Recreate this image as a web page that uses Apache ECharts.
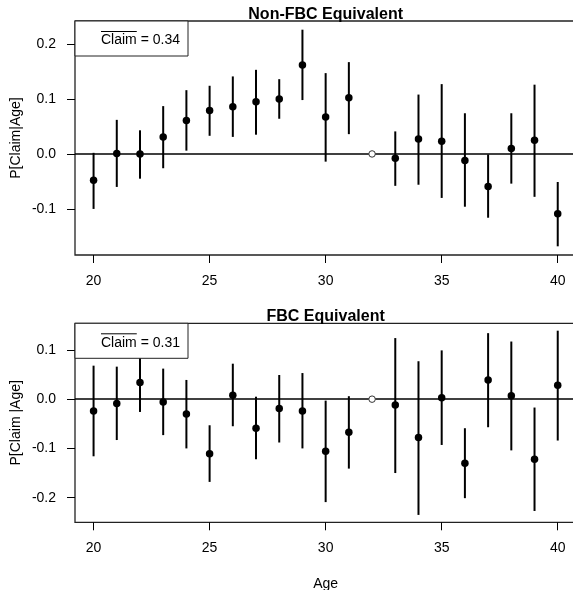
<!DOCTYPE html>
<html>
<head>
<meta charset="utf-8">
<script src="https://cdn.jsdelivr.net/npm/echarts@6/dist/echarts.min.js"></script>
<style>
  html, body { margin: 0; padding: 0; background: #fff; overflow: hidden; }
  #chart { width: 573px; height: 590px; }
</style>
</head>
<body>
<div id="chart"></div>
<script>
// Age groups with an estimate (32 is the reference group, fixed at 0)
const ages = [20, 21, 22, 23, 24, 25, 26, 27, 28, 29, 30, 31, 33, 34, 35, 36, 37, 38, 39, 40];
const refAge = 32;
const refValue = 0;

// Non-FBC equivalent: point estimate and interval bounds
const nonFbcMean = [-0.048, 0.001, 0.000, 0.031, 0.061, 0.079, 0.086, 0.095, 0.100, 0.162, 0.067, 0.102,
                    -0.008, 0.027, 0.023, -0.012, -0.059, 0.010, 0.025, -0.109];
const nonFbcLow  = [-0.100, -0.060, -0.045, -0.026, 0.006, 0.033, 0.031, 0.035, 0.064, 0.098, -0.014, 0.036,
                    -0.058, -0.056, -0.080, -0.096, -0.116, -0.054, -0.078, -0.168];
const nonFbcHigh = [0.002, 0.062, 0.043, 0.087, 0.116, 0.124, 0.141, 0.153, 0.136, 0.226, 0.147, 0.167,
                    0.041, 0.108, 0.127, 0.074, -0.001, 0.074, 0.126, -0.051];

// FBC equivalent: point estimate and interval bounds
const fbcMean = [-0.024, -0.009, 0.034, -0.006, -0.030, -0.111, 0.008, -0.059, -0.019, -0.024, -0.106, -0.067,
                 -0.012, -0.078, 0.003, -0.130, 0.039, 0.007, -0.122, 0.028];
const fbcLow  = [-0.116, -0.083, -0.026, -0.073, -0.100, -0.168, -0.055, -0.122, -0.088, -0.100, -0.209, -0.141,
                 -0.150, -0.235, -0.093, -0.201, -0.057, -0.104, -0.227, -0.084];
const fbcHigh = [0.068, 0.066, 0.095, 0.062, 0.039, -0.053, 0.072, 0.005, 0.049, 0.053, -0.003, 0.006,
                 0.124, 0.077, 0.099, -0.059, 0.134, 0.117, -0.017, 0.139];

// Overall claim rates shown in each panel's box
const claimMeans = [0.34, 0.31];
const panelTitles = ['Non-FBC Equivalent', 'FBC Equivalent'];
const yNames = ['P[Claim|Age]', 'P[Claim |Age]'];

// Axis ranges and tick values
const xRange = [19.2, 40.8];
const xTicks = [20, 25, 30, 35, 40];
const yRanges = [[-0.1838, 0.2418], [-0.2500, 0.1540]];
const yTicks = [[-0.1, 0.0, 0.1, 0.2], [-0.2, -0.1, 0.0, 0.1]];

const FONT = '"Liberation Sans", Arial, Helvetica, sans-serif';
// the plotting region runs slightly past the right edge of the page
const grids = [
  { left: 75, top: 21, right: -3.3, height: 234 },
  { left: 75, top: 323.3, right: -3.3, height: 199 }
];
const plotWidth = 573 + 3.3 - 75;

const chart = echarts.init(document.getElementById('chart'), null, { renderer: 'canvas' });

function errorBarItem(params, api) {
  const x = api.value(0);
  const p1 = api.coord([x, api.value(1)]);
  const p2 = api.coord([x, api.value(2)]);
  return {
    type: 'line',
    shape: { x1: p1[0], y1: p1[1], x2: p2[0], y2: p2[1] },
    style: { stroke: '#000', lineWidth: 2 }
  };
}

const panels = [
  { mean: nonFbcMean, low: nonFbcLow, high: nonFbcHigh },
  { mean: fbcMean, low: fbcLow, high: fbcHigh }
];

const xAxes = [], yAxes = [], series = [], graphics = [];

const measureCtx = document.createElement('canvas').getContext('2d');
measureCtx.font = '14px ' + FONT;
const claimWidth = measureCtx.measureText('Claim').width;

panels.forEach((p, i) => {
  xAxes.push({
    type: 'value', gridIndex: i, min: xRange[0], max: xRange[1],
    axisLine: { show: false, onZero: false },
    splitLine: { show: false },
    axisTick: { show: true, length: 8, customValues: xTicks, lineStyle: { color: '#000', width: 1 } },
    axisLabel: { customValues: xTicks, color: '#000', fontSize: 14, fontFamily: FONT, margin: 19 },
    name: i === 1 ? 'Age' : '',
    nameLocation: 'middle', nameGap: 55,
    nameTextStyle: { color: '#000', fontSize: 14, fontFamily: FONT }
  });
  yAxes.push({
    type: 'value', gridIndex: i, min: yRanges[i][0], max: yRanges[i][1],
    axisLine: { show: false, onZero: false },
    splitLine: { show: false },
    axisTick: { show: true, length: 8, customValues: yTicks[i], lineStyle: { color: '#000', width: 1 } },
    axisLabel: { customValues: yTicks[i], color: '#000', fontSize: 14, fontFamily: FONT, margin: 19,
                 formatter: v => v.toFixed(1) },
    name: yNames[i], nameLocation: 'middle', nameGap: 52, nameMoveOverlap: false,
    nameTextStyle: { color: '#000', fontSize: 14, fontFamily: FONT }
  });

  series.push({
    type: 'custom', xAxisIndex: i, yAxisIndex: i, z: 3,
    renderItem: errorBarItem,
    encode: { x: 0, y: [1, 2] },
    data: ages.map((a, k) => [a, p.low[k], p.high[k]]),
    silent: true
  });
  series.push({
    type: 'scatter', xAxisIndex: i, yAxisIndex: i, z: 4,
    symbol: 'circle', symbolSize: 7.5,
    itemStyle: { color: '#000', opacity: 1 },
    data: ages.map((a, k) => [a, p.mean[k]]),
    silent: true,
    markLine: {
      silent: true, symbol: 'none', animation: false,
      label: { show: false },
      lineStyle: { color: '#000', width: 1.6, type: 'solid' },
      data: [{ yAxis: 0 }]
    }
  });
  series.push({
    type: 'scatter', xAxisIndex: i, yAxisIndex: i, z: 5,
    symbol: 'circle', symbolSize: 6.5,
    itemStyle: { color: '#fff', borderColor: '#333', borderWidth: 1, opacity: 1 },
    data: [[refAge, refValue]],
    silent: true
  });

  const g = grids[i];
  // box in the top-left corner with the overall claim rate
  graphics.push({
    type: 'rect', z: 100,
    shape: { x: g.left, y: g.top, width: 113, height: 35 },
    style: { fill: '#fff', stroke: '#222', lineWidth: 1 }
  });
  graphics.push({
    type: 'text', z: 101,
    x: g.left + 26, y: g.top + 19.5,
    style: { text: 'Claim = ' + claimMeans[i].toFixed(2), font: '14px ' + FONT,
             fill: '#000', align: 'left', verticalAlign: 'middle' }
  });
  graphics.push({
    type: 'line', z: 101,
    shape: { x1: g.left + 26, y1: g.top + 10.5, x2: g.left + 26 + claimWidth, y2: g.top + 10.5 },
    style: { stroke: '#000', lineWidth: 1 }
  });
  // panel title, centred on the plotting region's x range
  graphics.push({
    type: 'text', z: 101,
    x: g.left + plotWidth * (30 - xRange[0]) / (xRange[1] - xRange[0]), y: g.top - 6.5,
    style: { text: panelTitles[i], font: 'bold 16px ' + FONT, fill: '#000',
             align: 'center', verticalAlign: 'middle' }
  });
});

chart.setOption({
  animation: false,
  backgroundColor: '#fff',
  grid: grids.map(g => Object.assign({ show: true, borderColor: '#222', borderWidth: 1.3,
                                       backgroundColor: 'transparent', containLabel: false,
                                       outerBoundsMode: 'none' }, g)),
  xAxis: xAxes,
  yAxis: yAxes,
  series: series,
  graphic: graphics
});
</script>
</body>
</html>
